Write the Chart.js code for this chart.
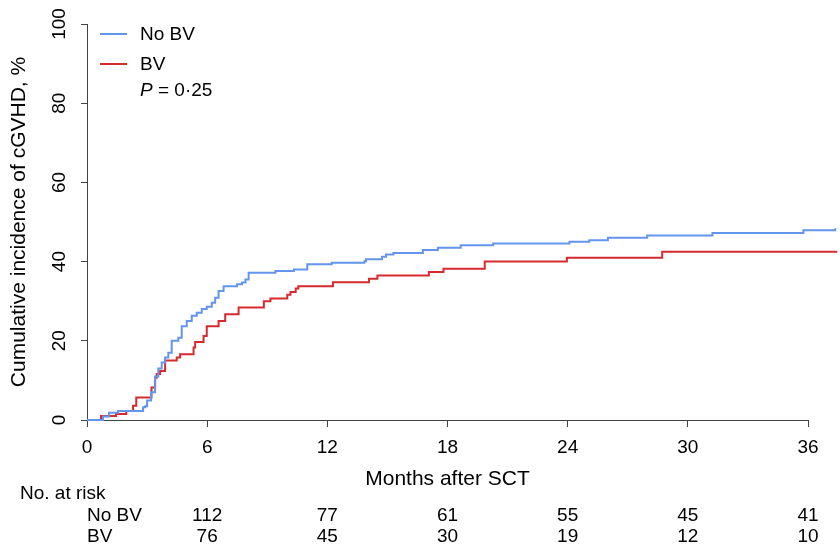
<!DOCTYPE html>
<html>
<head>
<meta charset="utf-8">
<title>Cumulative incidence of cGVHD</title>
<script src="https://cdn.jsdelivr.net/npm/chart.js@4.4.1/dist/chart.umd.min.js"></script>
<style>
    body { margin: 0; background: #ffffff; }
    #wrap { width: 840px; height: 549px; position: relative; }
</style>
</head>
<body>
<div id="wrap"><canvas id="cgvhdChart"></canvas></div>
<script>
// step points (months, cumulative %)
const noBvMonths = [0, 0.8, 1.1, 1.55, 2.8, 2.9, 3.0, 3.2, 3.4, 3.56, 3.73, 3.9, 4.06, 4.23, 4.56, 4.73, 4.98, 5.23, 5.48, 5.73, 5.98, 6.23, 6.4, 6.57, 6.82, 7.49, 7.74, 7.91, 8.07, 9.41, 10.33, 11.0, 12.22, 13.85, 13.93, 14.73, 14.93, 15.3, 16.77, 17.52, 18.66, 20.28, 24.09, 25.08, 26.01, 27.97, 31.23, 35.77, 37.36, 37.46];
const noBvPct = [0, 0.9, 1.8, 2.3, 3.2, 3.5, 4.9, 7, 11, 13, 14.5, 15.8, 17, 20, 20.8, 23.7, 25, 26.3, 27.1, 28, 28.6, 29.6, 30.9, 32.6, 33.8, 34.3, 34.7, 35.5, 37.2, 37.6, 38, 39.3, 39.7, 40.1, 40.6, 41.2, 41.8, 42.2, 42.9, 43.5, 44.1, 44.6, 45, 45.4, 46, 46.6, 47.2, 47.9, 48.4, 48.4];

const bvMonths = [0, 0.7, 1.45, 1.96, 2.3, 2.46, 3.22, 3.4, 3.48, 3.65, 3.9, 4.48, 4.65, 5.32, 5.4, 5.82, 5.98, 6.57, 6.9, 7.57, 8.83, 9.16, 10.0, 10.16, 10.42, 10.55, 12.28, 14.08, 14.5, 17.07, 17.8, 19.86, 23.96, 28.72, 37.46];
const bvPct = [0, 1.0, 1.5, 2.3, 3.6, 5.7, 8.2, 10.7, 11.6, 12.4, 15, 15.8, 16.6, 18.3, 19.7, 21.2, 23.7, 25, 26.7, 28.4, 30, 30.7, 31.6, 32.3, 33.2, 33.8, 34.8, 35.7, 36.5, 37.4, 38.2, 40, 41, 42.5, 42.5];

const seriesNames = ["No BV", "BV"];
const pValueText = "0·25";

// number at risk table
const riskMonths = [6, 12, 18, 24, 30, 36];
const riskNoBv = [112, 77, 61, 55, 45, 41];
const riskBv = [76, 45, 30, 19, 12, 10];

const FONT = "'Liberation Sans', Arial, Helvetica, sans-serif";
const BLUE = "#6495ed";
const RED = "#d62a2f";
const AXIS = "#444444";

function toPoints(xs, ys) {
    return xs.map(function (x, i) {
        return { x: x, y: ys[i] };
    });
}

// legend drawn inside the plot, top left
const cornerLegend = {
    id: "cornerLegend",
    afterDraw: function (chart) {
        const ctx = chart.ctx;
        const rows = [
            { y: 34, color: BLUE, text: chart.data.datasets[0].label },
            { y: 64, color: RED, text: chart.data.datasets[1].label }
        ];
        ctx.save();
        ctx.lineWidth = 2;
        ctx.font = "19px " + FONT;
        ctx.textBaseline = "middle";
        ctx.textAlign = "left";
        rows.forEach(function (r) {
            ctx.strokeStyle = r.color;
            ctx.beginPath();
            ctx.moveTo(100, r.y);
            ctx.lineTo(127, r.y);
            ctx.stroke();
            ctx.fillStyle = "#000";
            ctx.fillText(r.text, 140, r.y + 1);
        });
        ctx.font = "italic 19px " + FONT;
        ctx.fillText("P", 140, 91);
        const pw = ctx.measureText("P").width;
        ctx.font = "19px " + FONT;
        ctx.fillText(" = " + pValueText, 140 + pw, 91);
        ctx.restore();
    }
};

// "No. at risk" rows under the x axis
const riskTable = {
    id: "riskTable",
    afterDraw: function (chart) {
        const ctx = chart.ctx;
        const xs = chart.scales.x;
        ctx.save();
        ctx.font = "19px " + FONT;
        ctx.fillStyle = "#000";
        ctx.textBaseline = "middle";
        ctx.textAlign = "left";
        ctx.fillText("No. at risk", 20, 494);
        ctx.fillText(seriesNames[0], xs.getPixelForValue(0), 516);
        ctx.fillText(seriesNames[1], xs.getPixelForValue(0), 537);
        ctx.textAlign = "center";
        riskMonths.forEach(function (m, i) {
            const px = xs.getPixelForValue(m);
            ctx.fillText(String(riskNoBv[i]), px, 516);
            ctx.fillText(String(riskBv[i]), px, 537);
        });
        ctx.restore();
    }
};

window.onload = function () {

    const ctx = document.getElementById("cgvhdChart");

    new Chart(ctx, {

        type: "line",

        data: {
            datasets: [
                {
                    label: seriesNames[0],
                    data: toPoints(noBvMonths, noBvPct),
                    borderColor: BLUE,
                    borderWidth: 2,
                    stepped: "before",
                    pointRadius: 0,
                    fill: false,
                    clip: { left: 4, top: 4, right: 40, bottom: 4 }
                },
                {
                    label: seriesNames[1],
                    data: toPoints(bvMonths, bvPct),
                    borderColor: RED,
                    borderWidth: 2,
                    stepped: "before",
                    pointRadius: 0,
                    fill: false,
                    clip: { left: 4, top: 4, right: 40, bottom: 4 }
                }
            ]
        },

        options: {
            responsive: true,
            maintainAspectRatio: false,
            animation: false,
            layout: {
                padding: { left: 7, right: 32, top: 24, bottom: 57 }
            },
            plugins: {
                legend: { display: false },
                tooltip: { enabled: false }
            },
            scales: {
                x: {
                    type: "linear",
                    min: 0,
                    max: 36,
                    afterFit: function (scale) { scale.height = 72; },
                    ticks: {
                        stepSize: 6,
                        padding: 9,
                        color: "#000",
                        font: { family: FONT, size: 19 }
                    },
                    grid: {
                        drawOnChartArea: false,
                        tickLength: 7,
                        color: AXIS
                    },
                    border: { color: AXIS, width: 1 },
                    title: {
                        display: true,
                        text: "Months after SCT",
                        color: "#000",
                        padding: 0,
                        font: { family: FONT, size: 21 }
                    }
                },
                y: {
                    min: 0,
                    max: 100,
                    afterFit: function (scale) { scale.width = 80; },
                    ticks: {
                        stepSize: 20,
                        minRotation: 90,
                        maxRotation: 90,
                        crossAlign: "center",
                        padding: 5,
                        color: "#000",
                        font: { family: FONT, size: 19 }
                    },
                    grid: {
                        drawOnChartArea: false,
                        tickLength: 6,
                        color: AXIS
                    },
                    border: { color: AXIS, width: 1 },
                    title: {
                        display: true,
                        text: "Cumulative incidence of cGVHD, %",
                        color: "#000",
                        padding: 0,
                        font: { family: FONT, size: 21 }
                    }
                }
            }
        },

        plugins: [cornerLegend, riskTable]
    });
};
</script>
</body>
</html>
